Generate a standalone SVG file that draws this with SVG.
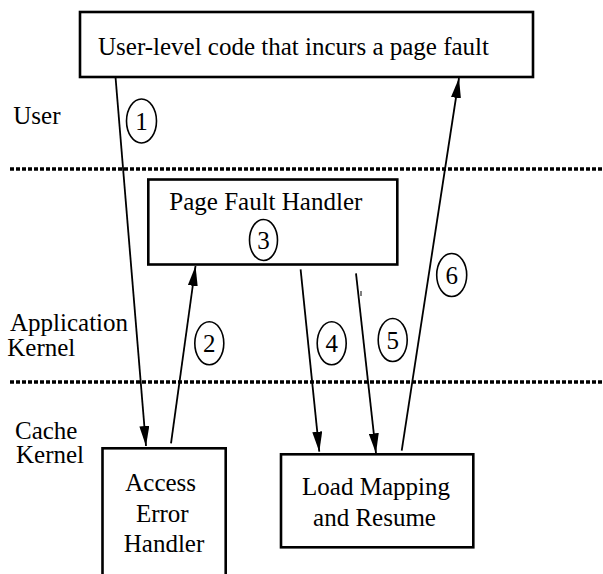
<svg xmlns="http://www.w3.org/2000/svg" width="603" height="574" viewBox="0 0 603 574">
<style>
  text { font-family: "Liberation Serif", "Times New Roman", serif; font-size: 25px; fill: #000; }
  .box { fill: #fff; stroke: #000; stroke-width: 2.6; }
  .num { fill: none; stroke: #000; stroke-width: 1.6; }
  .c { text-anchor: middle; }
  .sep { stroke: #000; stroke-width: 3.6; stroke-dasharray: 4 2; fill: none; }
  .edge { stroke: #000; stroke-width: 1.8; fill: none; }
</style>
<defs>
  <marker id="arr" markerUnits="userSpaceOnUse" markerWidth="20" markerHeight="10" refX="20" refY="5" orient="auto" viewBox="0 0 20 10">
    <path d="M0,0 L20,5 L0,10 Z" fill="#000"/>
  </marker>
</defs>

<g id="separators">
  <line class="sep" x1="10" y1="169" x2="603" y2="169"/>
  <line class="sep" x1="10" y1="382" x2="603" y2="382"/>
</g>

<g id="layer-labels">
  <text x="13.3" y="124.3">User</text>
  <text x="10" y="330.7">Application</text>
  <text x="7.3" y="356">Kernel</text>
  <text x="15" y="439.3">Cache</text>
  <text x="16" y="463.3">Kernel</text>
</g>

<g id="user-code">
  <rect class="box" x="80" y="12" width="453" height="65"/>
  <text x="98" y="55">User-level code that incurs a page fault</text>
</g>

<g id="page-fault-handler">
  <rect class="box" x="148.3" y="179.5" width="249" height="85"/>
  <text x="169.3" y="210">Page Fault Handler</text>
</g>

<g id="access-error-handler">
  <rect class="box" x="102.5" y="448.3" width="123.2" height="140"/>
  <text class="c" x="160.7" y="490.7">Access</text>
  <text class="c" x="162.3" y="521.7">Error</text>
  <text class="c" x="164" y="551.7">Handler</text>
</g>

<g id="load-mapping">
  <rect class="box" x="281" y="454.3" width="192.3" height="93"/>
  <text class="c" x="376" y="495">Load Mapping</text>
  <text class="c" x="374.5" y="526">and Resume</text>
</g>

<g id="connectors">
  <line class="edge" x1="115.5" y1="77" x2="146" y2="446" marker-end="url(#arr)"/>
  <line class="edge" x1="171" y1="443.3" x2="195.5" y2="266" marker-end="url(#arr)"/>
  <line class="edge" x1="300.6" y1="269.3" x2="319.3" y2="451.7" marker-end="url(#arr)"/>
  <line class="edge" x1="356" y1="273.3" x2="376" y2="453.3" marker-end="url(#arr)"/>
  <line class="edge" x1="401.7" y1="450.7" x2="459" y2="78" marker-end="url(#arr)"/>
  <line x1="361" y1="291" x2="361" y2="296" stroke="#000" stroke-width="1"/>
</g>

<g id="step-labels">
  <g id="step1"><ellipse class="num" cx="141.5" cy="121" rx="15" ry="22"/><text class="c" x="141.5" y="129.5">1</text></g>
  <g id="step2"><ellipse class="num" cx="209.3" cy="343.3" rx="14.5" ry="21.5"/><text class="c" x="209.3" y="351.8">2</text></g>
  <g id="step3"><ellipse class="num" cx="263.5" cy="240" rx="14" ry="20.5"/><text class="c" x="263.5" y="248.5">3</text></g>
  <g id="step4"><ellipse class="num" cx="331.7" cy="343.3" rx="14.5" ry="21.5"/><text class="c" x="331.7" y="351.8">4</text></g>
  <g id="step5"><ellipse class="num" cx="392.7" cy="340" rx="14.5" ry="21.5"/><text class="c" x="392.7" y="348.5">5</text></g>
  <g id="step6"><ellipse class="num" cx="451.7" cy="275" rx="15" ry="21.5"/><text class="c" x="451.7" y="283.5">6</text></g>
</g>
</svg>
